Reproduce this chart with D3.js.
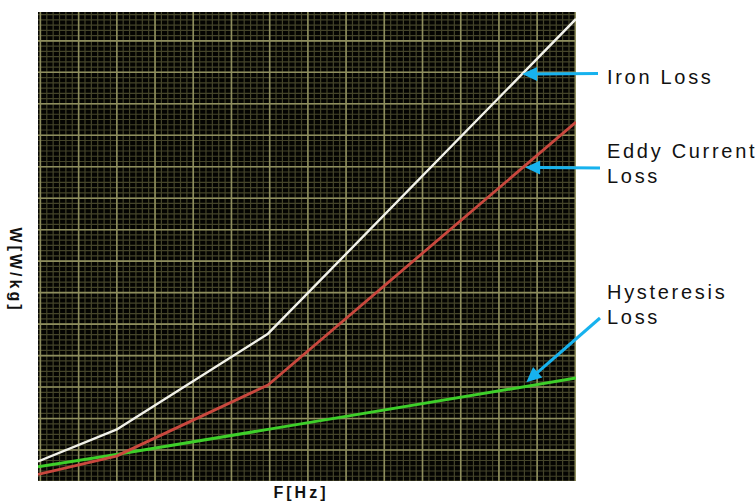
<!DOCTYPE html>
<html>
<head>
<meta charset="utf-8">
<script src="https://cdn.jsdelivr.net/npm/d3@7"></script>
<style>
  html, body { margin: 0; padding: 0; background: #ffffff; }
  svg { display: block; }
</style>
</head>
<body>
<svg id="chart" width="756" height="502"></svg>
<script>
// Loss curves (grid units on both axes)
const freq      = [0, 2.05, 6.02, 14.08];
const ironLoss  = [0.62, 1.63, 4.68, 14.68];
const eddyLoss  = [0.21, 0.79, 3.05, 11.40];
const hystLoss  = [0.45, 0.84, 1.64, 3.27];

const seriesNames  = ["Iron Loss", "Eddy Current Loss", "Hysteresis Loss"];
const seriesColors = ["#f2f2ea", "#c9483e", "#3ecf2a"];

// Axis titles
const xTitle = "F[Hz]";
const yTitle = "W[W/kg]";

// Where each callout arrow touches its curve (frequency, loss)
const calloutF = [12.67, 12.75, 12.78];
const calloutW = [12.93, 9.96, 3.14];

const svg = d3.select("#chart");
const plot = { left: 38, right: 576, top: 12, bottom: 481 };

const x = d3.scaleLinear().domain([0, 14.08]).range([plot.left, plot.right]);
const y = d3.scaleLinear().domain([0, 14.9]).range([plot.bottom, plot.top]);

// Plot background
svg.append("rect")
  .attr("x", x(0)).attr("y", y(14.9))
  .attr("width", x(14.08) - x(0)).attr("height", y(0) - y(14.9))
  .attr("fill", "#040402");

svg.append("clipPath").attr("id", "plotClip")
  .append("rect")
  .attr("x", x(0)).attr("y", y(14.9))
  .attr("width", x(14.08) - x(0)).attr("height", y(0) - y(14.9));

const grid = svg.append("g").attr("clip-path", "url(#plotClip)");

// Graph-paper grid: six minor steps per major division
const xMinor = d3.range(0, 85).map(i => 0.05 + i / 6).filter(v => v <= 14.08);
const yMinor = d3.range(0, 90).map(i => i / 6).filter(v => v <= 14.9);
const xMajor = d3.range(0, 15).map(i => 0.05 + i);
const yMajor = d3.range(0, 15);

const xAxisMinor = d3.axisBottom(x).tickValues(xMinor).tickSize(-(plot.bottom - plot.top)).tickFormat("");
const yAxisMinor = d3.axisLeft(y).tickValues(yMinor).tickSize(-(plot.right - plot.left)).tickFormat("");
const xAxisMajor = d3.axisBottom(x).tickValues(xMajor).tickSize(-(plot.bottom - plot.top)).tickFormat("");
const yAxisMajor = d3.axisLeft(y).tickValues(yMajor).tickSize(-(plot.right - plot.left)).tickFormat("");

function styleGrid(g, color, width) {
  g.select(".domain").remove();
  g.selectAll("line").attr("stroke", color).attr("stroke-width", width);
}

grid.append("g").attr("transform", `translate(0,${plot.bottom})`).call(xAxisMinor).call(g => styleGrid(g, "#45452a", 1.2));
grid.append("g").attr("transform", `translate(${plot.left},0)`).call(yAxisMinor).call(g => styleGrid(g, "#45452a", 1.2));
grid.append("g").attr("transform", `translate(0,${plot.bottom})`).call(xAxisMajor).call(g => styleGrid(g, "#8e8e5e", 1.6));
grid.append("g").attr("transform", `translate(${plot.left},0)`).call(yAxisMajor).call(g => styleGrid(g, "#8e8e5e", 1.6));

// Curves
const line = d3.line().x(d => x(d[0])).y(d => y(d[1]));
const series = [ironLoss, eddyLoss, hystLoss];
const widths = [2.4, 2.8, 3];
const curves = svg.append("g").attr("clip-path", "url(#plotClip)");
// draw hysteresis first, iron last
[2, 1, 0].forEach(i => {
  curves.append("path")
    .datum(freq.map((f, k) => [f, series[i][k]]))
    .attr("d", line)
    .attr("fill", "none")
    .attr("stroke", seriesColors[i])
    .attr("stroke-width", widths[i])
    .attr("stroke-linejoin", "round");
});

// Callouts: label text and arrow
const arrowColor = "#17b2ee";
const labelFont = "'Liberation Sans', Arial, Helvetica, sans-serif";
const callouts = [
  { lines: ["Iron Loss"], tx: 607, ty: 84, tail: [598, 73.5] },
  { lines: ["Eddy Current", "Loss"], tx: 607, ty: 158, tail: [600, 168] },
  { lines: ["Hysteresis", "Loss"], tx: 607, ty: 299, tail: [600, 318] }
];

const ann = svg.append("g");
callouts.forEach((c, i) => {
  const tip = [x(calloutF[i]), y(calloutW[i])];
  const dx = tip[0] - c.tail[0], dy = tip[1] - c.tail[1];
  const len = Math.hypot(dx, dy);
  const ux = dx / len, uy = dy / len;
  const headLen = 15, headHalf = 7;
  const base = [tip[0] - ux * headLen, tip[1] - uy * headLen];
  ann.append("line")
    .attr("x1", c.tail[0]).attr("y1", c.tail[1])
    .attr("x2", base[0] + ux * 2).attr("y2", base[1] + uy * 2)
    .attr("stroke", arrowColor).attr("stroke-width", 3);
  ann.append("path")
    .attr("d", d3.line()([
      tip,
      [base[0] - uy * headHalf, base[1] + ux * headHalf],
      [base[0] + uy * headHalf, base[1] - ux * headHalf]
    ]) + "Z")
    .attr("fill", arrowColor);
  const t = ann.append("text")
    .attr("x", c.tx).attr("y", c.ty)
    .attr("font-family", labelFont)
    .attr("font-size", 20)
    .attr("letter-spacing", 2.7)
    .attr("fill", "#111");
  c.lines.forEach((s, k) => {
    t.append("tspan").attr("x", c.tx).attr("dy", k === 0 ? 0 : 24.5).text(s);
  });
});

// Axis titles
svg.append("text")
  .attr("x", (plot.left + plot.right) / 2 - 6).attr("y", 498)
  .attr("text-anchor", "middle")
  .attr("font-family", labelFont).attr("font-weight", "bold")
  .attr("font-size", 16).attr("letter-spacing", 3)
  .attr("fill", "#111")
  .text(xTitle);

svg.append("text")
  .attr("transform", `translate(10,270) rotate(90)`)
  .attr("text-anchor", "middle")
  .attr("font-family", labelFont).attr("font-weight", "bold")
  .attr("font-size", 16).attr("letter-spacing", 3)
  .attr("fill", "#111")
  .text(yTitle);
</script>
</body>
</html>
